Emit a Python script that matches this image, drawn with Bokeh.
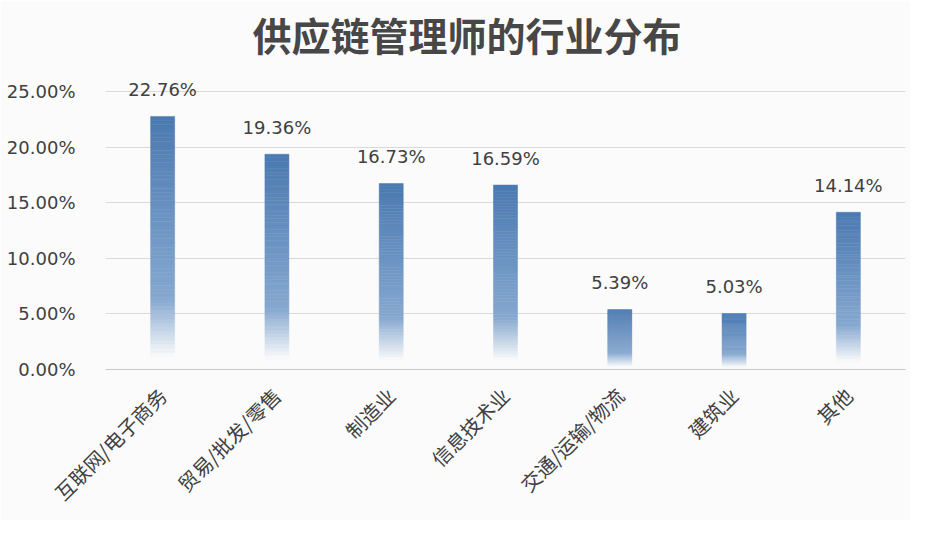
import math
from bokeh.plotting import figure
from bokeh.models import ColumnDataSource, FactorRange, Range1d, FixedTicker, Title
from bokeh.core.properties import value
from bokeh.embed import file_html
from bokeh.resources import INLINE

title_text = "供应链管理师的行业分布"
categories = ["互联网/电子商务", "贸易/批发/零售", "制造业", "信息技术业",
              "交通/运输/物流", "建筑业", "其他"]
values = [22.76, 19.36, 16.73, 16.59, 5.39, 5.03, 14.14]
value_labels = ["22.76%", "19.36%", "16.73%", "16.59%", "5.39%", "5.03%", "14.14%"]
tick_values = [0, 5, 10, 15, 20, 25]
tick_labels = ["0.00%", "5.00%", "10.00%", "15.00%", "20.00%", "25.00%"]

BG = "#fbfbfb"
TEXT = "#404040"


def hex2rgb(h):
    h = h.lstrip("#")
    return tuple(int(h[i:i + 2], 16) for i in (0, 2, 4))


def mix(c1, c2, t):
    a, b = hex2rgb(c1), hex2rgb(c2)
    return "#%02x%02x%02x" % tuple(int(round(a[i] + (b[i] - a[i]) * t)) for i in range(3))


# gradient stops (fraction of bar height from bottom, colour)
stops = [(0.0, BG), (0.05, BG), (0.28, "#86a8d0"), (1.0, "#4a79b0")]


def grad(f):
    for (f0, c0), (f1, c1) in zip(stops[:-1], stops[1:]):
        if f <= f1:
            t = 0 if f1 == f0 else (f - f0) / (f1 - f0)
            return mix(c0, c1, max(0.0, min(1.0, t)))
    return stops[-1][1]


N = 60
xs, bots, tops, cols = [], [], [], []
for cat, v in zip(categories, values):
    for j in range(N):
        f0, f1 = j / N, (j + 1) / N
        xs.append(cat)
        bots.append(v * f0)
        tops.append(v * f1)
        cols.append(grad((f0 + f1) / 2))
bars = ColumnDataSource(dict(x=xs, bottom=bots, top=tops, color=cols))
labels = ColumnDataSource(dict(x=categories, y=values, t=value_labels))

p = figure(width=910, height=520, output_backend="svg", toolbar_location=None,
           x_range=FactorRange(*categories, range_padding=0),
           y_range=Range1d(0, 27.43),
           min_border_left=105, min_border_right=5,
           min_border_top=64, min_border_bottom=151)
p.background_fill_color = BG
p.border_fill_color = BG
p.outline_line_color = None

p.title = Title(text=title_text, align="left", text_font="Noto Sans CJK SC",
                text_font_size="39px", text_font_style="bold", text_color="#474747",
                offset=147, standoff=5)

p.vbar(x="x", bottom="bottom", top="top", width=0.21, source=bars,
       fill_color="color", line_color="color", line_width=0.5)

p.text(x="x", y="y", text="t", source=labels, text_align="center",
       text_baseline="alphabetic", y_offset=-27,
       text_font=value("DejaVu Sans"), text_font_size="18px", text_color=TEXT)

p.xgrid.grid_line_color = None
p.ygrid.grid_line_color = "#d9d9d9"
p.ygrid.ticker = FixedTicker(ticks=tick_values)

p.yaxis.ticker = FixedTicker(ticks=tick_values)
p.yaxis.major_label_overrides = {t: l for t, l in zip(tick_values, tick_labels)}
p.yaxis.axis_line_color = None
p.yaxis.major_tick_line_color = None
p.yaxis.minor_tick_line_color = None
p.yaxis.major_label_standoff = 24
p.yaxis.major_label_text_font = "DejaVu Sans"
p.yaxis.major_label_text_font_size = "18px"
p.yaxis.major_label_text_color = TEXT

p.xaxis.axis_line_color = "#c8c8c8"
p.xaxis.major_tick_line_color = None
p.xaxis.minor_tick_line_color = None
p.xaxis.major_label_orientation = math.pi / 4
p.xaxis.major_label_standoff = 16
p.xaxis.major_label_text_font = "Noto Sans CJK SC"
p.xaxis.major_label_text_font_size = "20px"
p.xaxis.major_label_text_color = TEXT

open("out.html", "w").write(file_html(p, INLINE))
